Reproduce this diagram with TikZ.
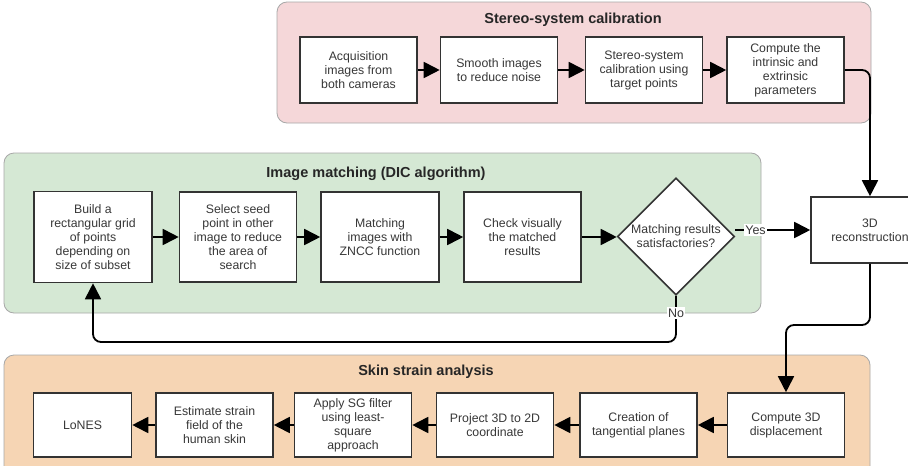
\documentclass[tikz,border=0pt]{standalone}
\usepackage{fontspec}
\setmainfont{Liberation Sans}
\usetikzlibrary{arrows.meta,shapes.geometric}
\definecolor{pinkf}{HTML}{F5D7D9}
\definecolor{greenf}{HTML}{D5E8D4}
\definecolor{orangef}{HTML}{F6D5B4}
\definecolor{panelb}{HTML}{A8A8A8}
\definecolor{boxc}{HTML}{333333}
\definecolor{txtc}{HTML}{383838}
\tikzset{
  panel/.style={draw=panelb, line width=0.8pt, rounded corners=10pt},
  ptitle/.style={font=\fontsize{14.5}{17}\selectfont\bfseries, text=black!85, inner sep=0pt},
  bx/.style={draw=boxc, line width=1.6pt, fill=white, minimum width=117pt, minimum height=66pt,
    align=center, inner sep=0pt, font=\fontsize{12.3}{14}\selectfont, text=txtc},
  dia/.style={diamond, aspect=1, draw=boxc, line width=1.6pt, fill=white, minimum width=117pt,
    minimum height=117pt, align=center, inner sep=0pt, font=\fontsize{12.3}{14}\selectfont, text=txtc},
  arr/.style={draw=black, line width=1.8pt, -{Triangle[length=16pt,width=16pt]}},
  lbl/.style={fill=white, inner sep=1.5pt, font=\fontsize{12.5}{14}\selectfont, text=txtc}
}
\begin{document}
\begin{tikzpicture}[x=1pt,y=-1pt]
\clip (0,0) rectangle (908,466);
\fill[white] (0,0) rectangle (908,466);
% panels
\draw[panel, fill=pinkf] (277,2) rectangle (871,123);
\draw[panel, fill=greenf] (4,153) rectangle (761,313);
\draw[panel, fill=orangef] (4,355) rectangle (870,490);
\node[ptitle] (tcal) at (573,20) {Stereo-system calibration};
\node[ptitle] (tdic) at (376,174) {Image matching (DIC algorithm)};
\node[ptitle] (tskin) at (426,372) {Skin strain analysis};
% calibration boxes
\node[bx] (c1) at (358.5,70) {Acquisition\\images from\\both cameras};
\node[bx] (c2) at (499,70) {Smooth images\\to reduce noise};
\node[bx] (c3) at (644,70) {Stereo-system\\calibration using\\target points};
\node[bx] (c4) at (785.5,70) {Compute the\\intrinsic and\\extrinsic\\parameters};
% DIC boxes
\node[bx, minimum width=118pt, minimum height=91pt] (g1) at (93,237) {Build a\\rectangular grid\\of points\\depending on\\size of subset};
\node[bx, minimum height=90pt] (g2) at (238,237) {Select seed\\point in other\\image to reduce\\the area of\\search};
\node[bx, minimum width=118pt, minimum height=90pt] (g3) at (380,237) {Matching\\images with\\ZNCC function};
\node[bx, minimum height=90pt] (g4) at (522.5,237) {Check visually\\the matched\\results};
\node[dia] (d) at (676,236.5) {Matching results\\satisfactories?};
\node[bx, minimum width=118pt] (rec) at (870,230) {3D\\reconstruction};
% skin boxes
\node[bx, minimum height=64pt, minimum width=98pt] (o1) at (82.5,425) {LoNES};
\node[bx, minimum height=64pt] (o2) at (214.5,425) {Estimate strain\\field of the\\human skin};
\node[bx, minimum height=64pt] (o3) at (353,425) {Apply SG filter\\using least-\\square\\approach};
\node[bx, minimum height=64pt] (o4) at (495,425) {Project 3D to 2D\\coordinate};
\node[bx, minimum height=64pt] (o5) at (638.5,425) {Creation of\\tangential planes};
\node[bx, minimum height=64pt] (o6) at (786,425) {Compute 3D\\displacement};
% connectors
\draw[arr] (c1) -- (c2);
\draw[arr] (c2) -- (c3);
\draw[arr] (c3) -- (c4);
\draw[arr, rounded corners=8pt] (c4.east) -| (rec.north);
\draw[arr] (g1) -- (g2);
\draw[arr] (g2) -- (g3);
\draw[arr] (g3) -- (g4);
\draw[arr] (g4) -- (d.west |- g4.east);
\draw[arr] (d.east |- rec.west) -- node[lbl, pos=0.27] (yes) {Yes} (rec.west);
\coordinate (nob) at (676,342);
\draw[arr, rounded corners=8pt] (d.south) -- (nob) -| (g1.south);
\node[lbl] (no) at (676,313) {No};
\coordinate (rb) at (830,325);
\draw[arr, rounded corners=8pt] (rec.south) |- (rb) -| (o6.north);
\draw[arr] (o6) -- (o5);
\draw[arr] (o5) -- (o4);
\draw[arr] (o4) -- (o3);
\draw[arr] (o3) -- (o2);
\draw[arr] (o2) -- (o1);
\end{tikzpicture}
\end{document}
